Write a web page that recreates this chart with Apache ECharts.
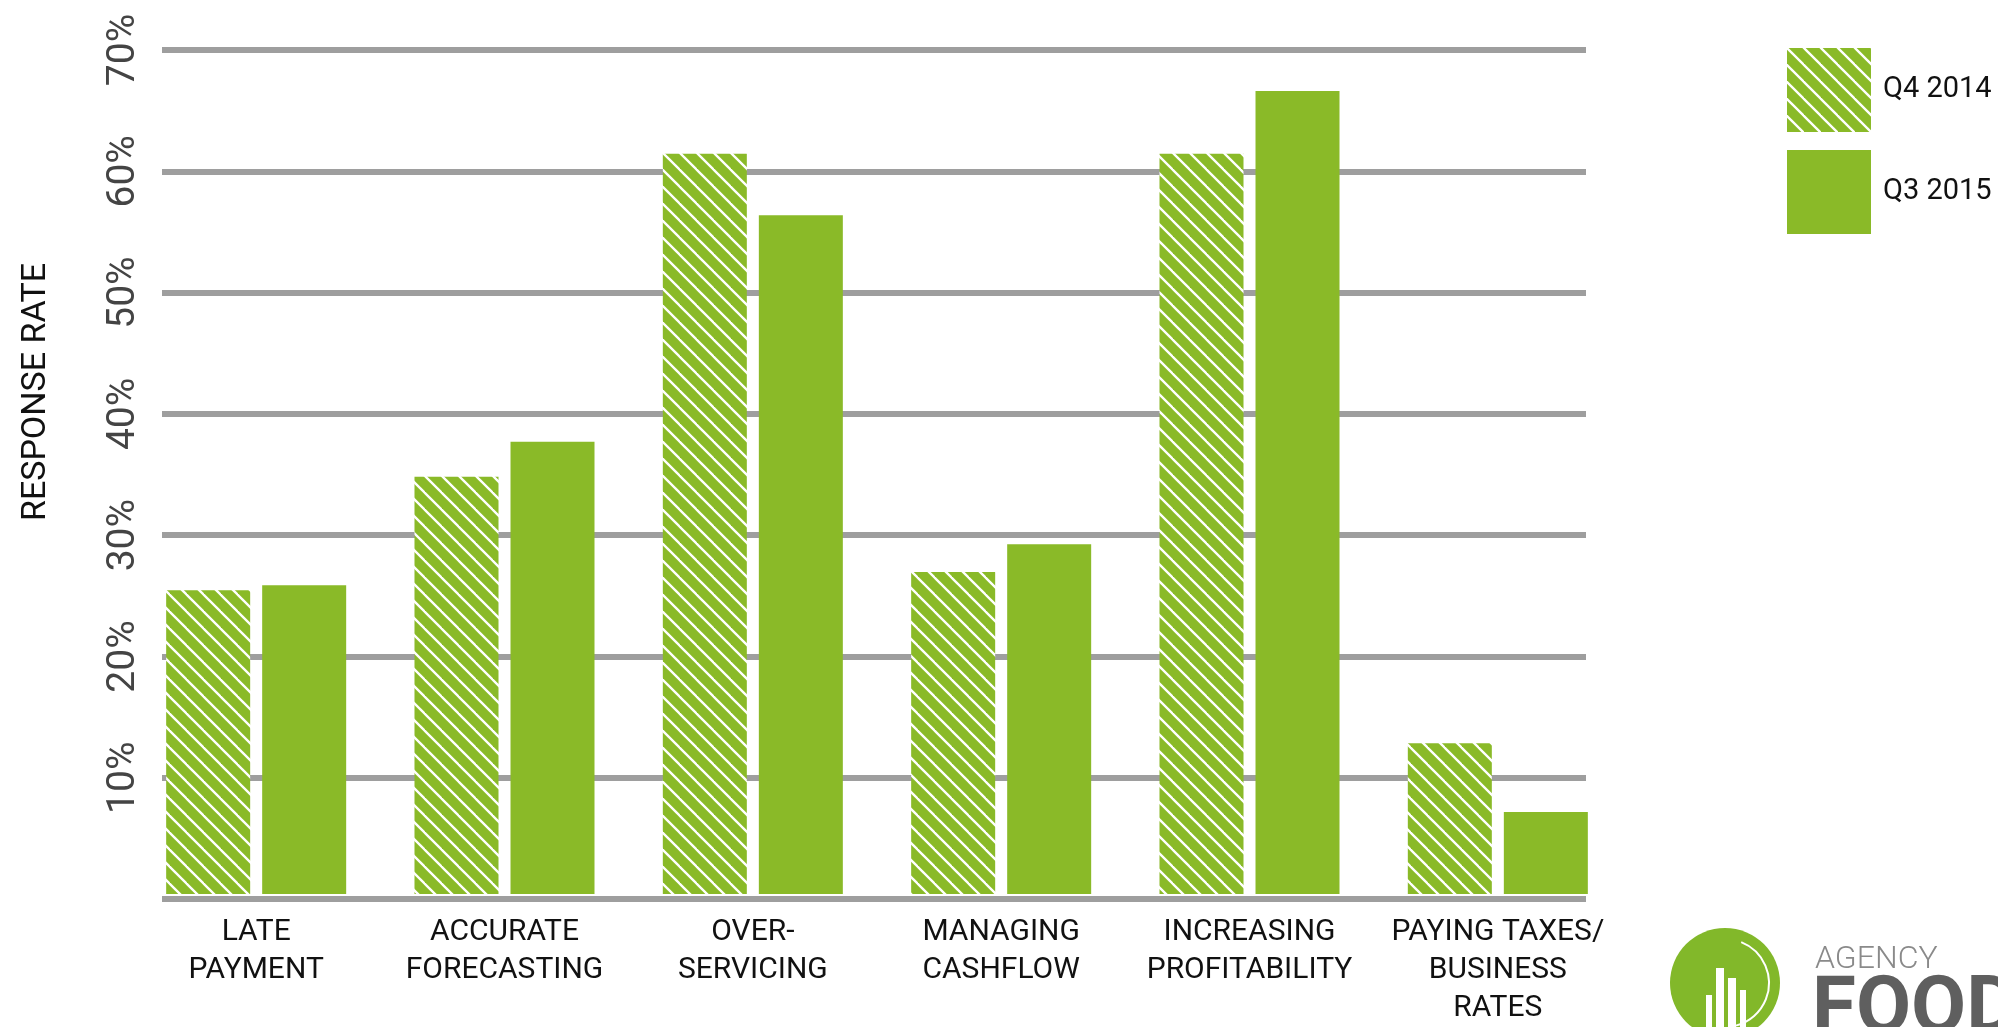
<!DOCTYPE html>
<html>
<head>
<meta charset="utf-8">
<script src="https://cdn.jsdelivr.net/npm/echarts@6/dist/echarts.min.js"></script>
<style>
html,body{margin:0;padding:0;background:#fff;}
#chart{width:1998px;height:1027px;}
</style>
</head>
<body>
<div id="chart"></div>
<script>
// ---- data ----
const categories = ['LATE\nPAYMENT', 'ACCURATE\nFORECASTING', 'OVER-\nSERVICING', 'MANAGING\nCASHFLOW', 'INCREASING\nPROFITABILITY', 'PAYING TAXES/\nBUSINESS\nRATES'];
const seriesNames = ['Q4 2014', 'Q3 2015'];
const q4_2014 = [25.2, 34.6, 61.4, 26.7, 61.4, 12.5];
const q3_2015 = [25.6, 37.5, 56.3, 29.0, 66.6, 6.8];
const yTicks = [0, 10, 20, 30, 40, 50, 60, 70];
const yTitle = 'RESPONSE RATE';

const GREEN = '#8aba28';
function hatch() {
  const s = 17;
  const c = document.createElement('canvas');
  c.width = s; c.height = s;
  const ctx = c.getContext('2d');
  ctx.fillStyle = GREEN;
  ctx.fillRect(0, 0, s, s);
  ctx.strokeStyle = '#ffffff';
  ctx.lineWidth = 2.3;
  for (const o of [-s, 0, s]) {
    ctx.beginPath();
    ctx.moveTo(o - 2, -2);
    ctx.lineTo(o + s + 2, s + 2);
    ctx.stroke();
  }
  return c;
}

const chart = echarts.init(document.getElementById('chart'), null, {renderer: 'canvas'});
const FONT = 'Roboto, "Noto Sans", sans-serif';

const option = {
  backgroundColor: '#ffffff',
  animation: false,
  grid: [
    {left: 162, width: 1424, top: 50, height: 849},
    {left: 132, width: 1490, top: 50, height: 849}
  ],
  legend: {
    orient: 'vertical',
    left: 1782, top: 43,
    itemWidth: 84, itemHeight: 84, itemGap: 18,
    icon: 'rect',
    data: seriesNames,
    textStyle: {fontFamily: FONT, fontSize: 29, color: '#111', padding: [0, 0, 0, 7]}
  },
  xAxis: [
    {gridIndex: 0, type: 'category', data: categories, show: false},
    {
      gridIndex: 1, type: 'category', data: categories,
      axisLine: {show: false}, axisTick: {show: false},
      axisLabel: {fontFamily: FONT, fontSize: 30, color: '#111', lineHeight: 38, margin: 19, interval: 0}
    }
  ],
  yAxis: [
    {
      gridIndex: 0, type: 'value', min: yTicks[0], max: yTicks[yTicks.length - 1], interval: 10,
      axisLine: {show: false}, axisTick: {show: false},
      axisLabel: {
        rotate: 90, margin: 18, fontFamily: FONT, fontSize: 39, color: '#444',
        formatter: v => v === 0 ? '' : v + '%'
      },
      splitLine: {show: true, lineStyle: {color: '#9e9e9e', width: 6}}
    },
    {gridIndex: 1, type: 'value', min: yTicks[0], max: yTicks[yTicks.length - 1], show: false}
  ],
  series: [
    {
      name: seriesNames[0], type: 'bar', xAxisIndex: 1, yAxisIndex: 1,
      data: q4_2014, barWidth: 84, barGap: '14.3%',
      itemStyle: {color: {image: hatch(), repeat: 'repeat'}}
    },
    {
      name: seriesNames[1], type: 'bar', xAxisIndex: 1, yAxisIndex: 1,
      data: q3_2015, barWidth: 84, barGap: '14.3%',
      itemStyle: {color: GREEN}
    }
  ],
  graphic: [
    {type: 'text', x: 36, y: 392, rotation: Math.PI / 2,
     style: {text: yTitle, fontFamily: FONT, fontSize: 34, fill: '#111', align: 'center', verticalAlign: 'middle'}},
    {type: 'circle', shape: {cx: 1725, cy: 983, r: 55}, style: {fill: '#82b82a'}},
    {type: 'arc', shape: {cx: 1725, cy: 983, r: 44, startAngle: -Math.PI * 0.38, endAngle: Math.PI * 0.42}, style: {stroke: '#ffffff', lineWidth: 2, fill: null}},
    {type: 'rect', shape: {x: 1706, y: 995, width: 6, height: 40}, style: {fill: '#ffffff'}},
    {type: 'rect', shape: {x: 1716, y: 968, width: 8, height: 70}, style: {fill: '#ffffff'}},
    {type: 'rect', shape: {x: 1728, y: 978, width: 8, height: 60}, style: {fill: '#ffffff'}},
    {type: 'rect', shape: {x: 1740, y: 990, width: 6, height: 50}, style: {fill: '#ffffff'}},
    {type: 'text', left: 1815, top: 944, style: {text: 'AGENCY', fontFamily: FONT, fontSize: 32, fontWeight: 300, fill: '#8a8a8a'}},
    {type: 'text', left: 1812, top: 972, style: {text: 'FOOD', fontFamily: FONT, fontSize: 80, fontWeight: 'bold', fill: '#5f5f5f'}}
  ]
};
chart.setOption(option);
</script>
</body>
</html>
